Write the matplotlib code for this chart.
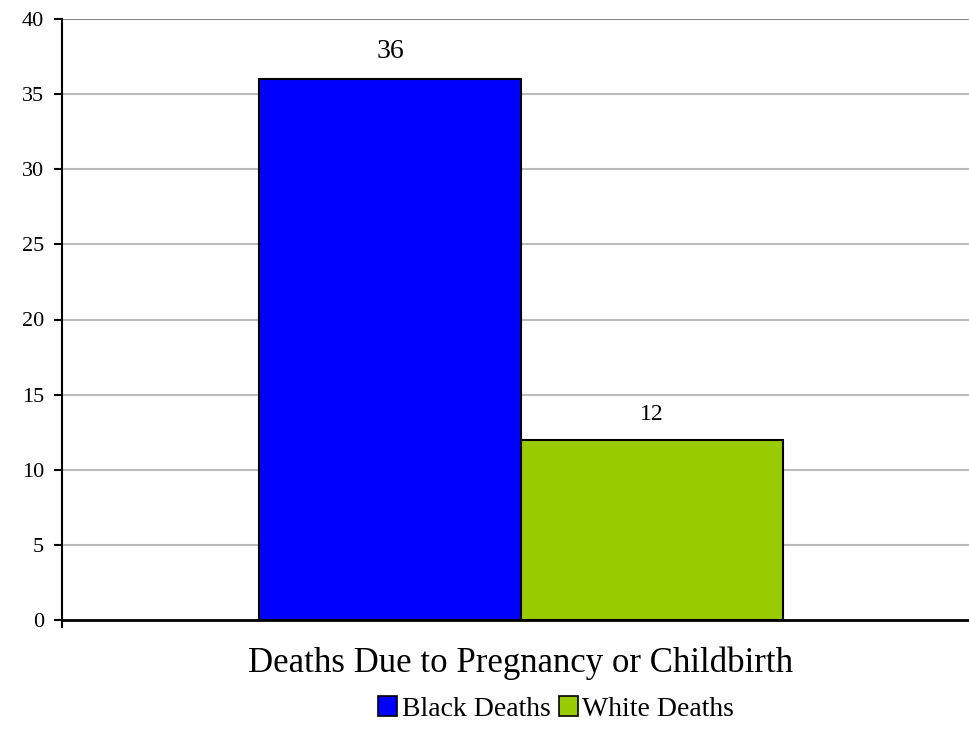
import matplotlib
matplotlib.use("Agg")
import matplotlib.pyplot as plt
from matplotlib.patches import Patch

categories = ["Deaths Due to Pregnancy or Childbirth"]
series_names = ["Black Deaths", "White Deaths"]
black_values = [36]
white_values = [12]
colors = ["#0000FF", "#99CC00"]
yticks = [0, 5, 10, 15, 20, 25, 30, 35, 40]

plt.rcParams['font.family'] = ['Liberation Serif', 'DejaVu Serif']

fig = plt.figure(figsize=(9.69, 7.46), dpi=100)
ax = fig.add_axes([62/969, 1 - 620/746, (980-62)/969, (620-19)/746])

w = 0.285
x0 = 0
b1 = ax.bar(x0 - w/2, black_values, width=w, color=colors[0], edgecolor="black", linewidth=1.5, zorder=3)
b2 = ax.bar(x0 + w/2, white_values, width=w, color=colors[1], edgecolor="black", linewidth=1.5, zorder=3)

for bars, vals in ((b1, black_values), (b2, white_values)):
    for r, v in zip(bars, vals):
        ax.text(r.get_x() + r.get_width()/2, v + 1.0, str(v), ha="center", va="bottom",
                fontsize=20 if v > 20 else 17, zorder=4)

ax.set_xlim(-0.5, 0.5)
ax.set_ylim(0, 40)
ax.set_yticks(yticks)
ax.set_yticklabels([str(t) for t in yticks], fontsize=16)
for t in yticks[1:]:
    ax.axhline(t, color="#888888" if t == 40 else "#BBBBBB", linewidth=1.5, zorder=1)

ax.set_xticks([-0.5])
ax.set_xticklabels([""])
ax.tick_params(axis="x", direction="out", length=6, width=1.5)
ax.tick_params(axis="y", direction="out", length=6, width=1.5, pad=7)
for s in ["top", "right"]:
    ax.spines[s].set_visible(False)
ax.spines["left"].set_linewidth(1.5)
ax.spines["bottom"].set_linewidth(2)

fig.text(521/969, 1 - 663/746, categories[0], ha="center", va="center", fontsize=25)

handles = [Patch(facecolor=colors[i], edgecolor="black", linewidth=1.2, label=series_names[i]) for i in range(2)]
fig.legend(handles=handles, loc="center", bbox_to_anchor=(556/969, 1 - 709/746), ncol=2, frameon=False,
           fontsize=20, handlelength=0.7, handleheight=0.7, handletextpad=0.15, columnspacing=0.3)

fig.savefig("out.png", dpi=100)
